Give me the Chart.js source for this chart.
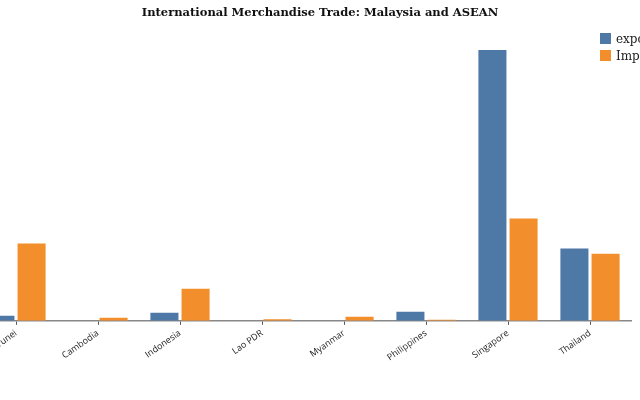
<!DOCTYPE html>
<html>
<head>
<meta charset="utf-8">
<script src="https://cdn.jsdelivr.net/npm/chart.js@4.4.1/dist/chart.umd.min.js"></script>
<style>
    html, body { margin: 0; padding: 0; background: #fff; overflow: hidden; width: 640px; height: 400px; }
    #title { position: absolute; left: 0; top: 5px; width: 640px; text-align: center; font: bold 11.5px "DejaVu Serif", serif; color: #111; }
    #wrap { position: absolute; left: -25px; top: 0; width: 690px; height: 400px; }
    #legend { position: absolute; left: 600px; top: 30px; font: 12px "DejaVu Serif", serif; color: #222; white-space: nowrap; }
    .leg-item { display: flex; align-items: center; height: 17px; }
    .leg-box { width: 11px; height: 11px; margin-right: 5px; }
</style>
</head>
<body>
<div id="wrap"><canvas id="trade-chart"></canvas></div>
<div id="title">International Merchandise Trade: Malaysia and ASEAN</div>
<div id="legend"></div>
<script>
// ASEAN partners, value units
const COUNTRIES = ['Brunei', 'Cambodia', 'Indonesia', 'Lao PDR', 'Myanmar', 'Philippines', 'Singapore', 'Thailand'];
const EXPORTS   = [2.5, 0, 4, 0, 0, 4.5, 135, 36];
const IMPORTS   = [38.5, 1.5, 16, 0.75, 2, 0.5, 51, 33.5];
const SERIES_LABELS = ['exports', 'Imports'];
const SERIES_COLORS = ['#4e79a7', '#f28e2b'];

const datasets = [EXPORTS, IMPORTS].map((vals, i) => ({
    label: SERIES_LABELS[i],
    data: vals,
    backgroundColor: SERIES_COLORS[i],
    borderWidth: 0,
    categoryPercentage: 0.76,
    barPercentage: 0.9,
}));

// --- legend (top right, runs off the edge like the original) ---
document.getElementById('legend').innerHTML = datasets.map(d =>
    `<div class="leg-item"><span class="leg-box" style="background:${d.backgroundColor};"></span>${d.label}</div>`
).join('');

new Chart(document.getElementById('trade-chart'), {
    type: 'bar',
    data: { labels: COUNTRIES, datasets },
    options: {
        responsive: true,
        maintainAspectRatio: false,
        animation: false,
        layout: { padding: { top: 30, bottom: 34, left: 0, right: 34 } },
        plugins: {
            legend: { display: false },
            tooltip: { enabled: false },
        },
        scales: {
            x: {
                grid: { offset: false, drawOnChartArea: false, drawTicks: true, tickLength: 4, color: '#555' },
                border: { color: '#888', width: 1.5 },
                ticks: {
                    color: '#222',
                    font: { family: 'Open Sans', size: 9 },
                    minRotation: 35,
                    maxRotation: 35,
                    padding: 3,
                    autoSkip: false,
                },
            },
            y: {
                display: false,
                min: 0,
                max: 145,
            },
        },
    },
});
</script>
</body>
</html>
